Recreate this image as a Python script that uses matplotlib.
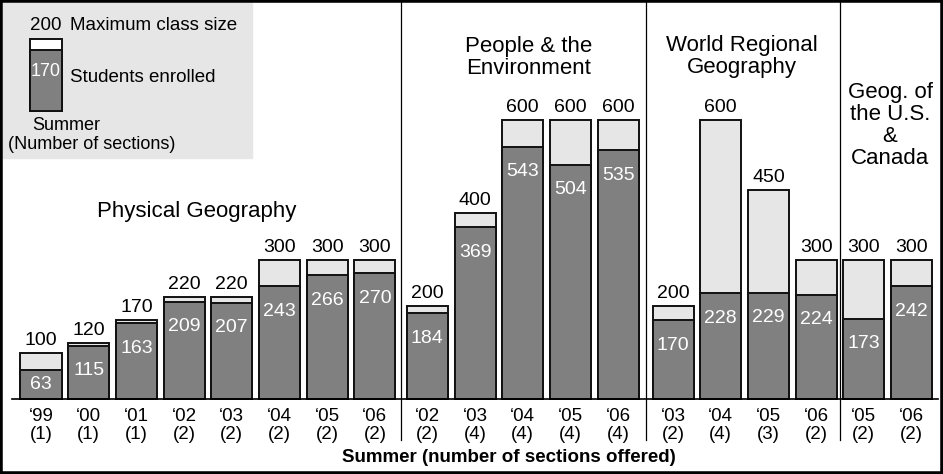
import numpy as np
import matplotlib
matplotlib.use('Agg')
import matplotlib.pyplot as plt
from matplotlib.patches import Rectangle

plt.rcParams['font.family'] = ['Liberation Sans', 'DejaVu Sans']

# course groups
groups = ['Physical Geography', 'People & the\nEnvironment',
          'World Regional\nGeography', 'Geog. of\nthe U.S.\n&\nCanada']
years = [["99", "00", "01", "02", "03", "04", "05", "06"],
         ["02", "03", "04", "05", "06"],
         ["03", "04", "05", "06"],
         ["05", "06"]]
sections = [[1, 1, 1, 2, 2, 2, 2, 2],
            [2, 4, 4, 4, 4],
            [2, 4, 3, 2],
            [2, 2]]
max_size = [[100, 120, 170, 220, 220, 300, 300, 300],
            [200, 400, 600, 600, 600],
            [200, 600, 450, 300],
            [300, 300]]
enrolled = [[63, 115, 163, 209, 207, 243, 266, 270],
            [184, 369, 543, 504, 535],
            [170, 228, 229, 224],
            [173, 242]]

W, H = 943, 474
PX_X = 47.7      # px per bar slot
PX_Y = 0.465     # px per student
X0, Y0 = 41, 399  # px of first bar centre / baseline

DARK = '#808080'
LIGHT = '#e6e6e6'

fig = plt.figure(figsize=(W / 100, H / 100), dpi=100)
ax = fig.add_axes([0, 0, 1, 1])
ax.set_xlim(-X0 / PX_X, (W - X0) / PX_X)
ax.set_ylim(-(H - Y0) / PX_Y, Y0 / PX_Y)
ax.axis('off')

# bar positions: one slot per bar, small extra gap between groups
gaps = [0.1, 0.15, 0.0]
pos = []
start = 0.0
for g in range(len(groups)):
    p = start + np.arange(len(years[g]))
    pos.append(p)
    if g < len(gaps):
        start = p[-1] + 1 + gaps[g]

bw = 0.86
ticks, ticklabels = [], []
for g in range(len(groups)):
    p = pos[g]
    mx = np.array(max_size[g])
    en = np.array(enrolled[g])
    ax.bar(p, mx, bw, color=LIGHT, edgecolor='#111111', linewidth=1.4, zorder=2)
    ax.bar(p, en, bw, color=DARK, edgecolor='#111111', linewidth=1.4, zorder=3)
    for x, m, e in zip(p, mx, en):
        ax.text(x, m + 8, str(m), ha='center', va='bottom', fontsize=14, zorder=4)
        ax.text(x, max(e - 54, e / 2), str(e), ha='center', va='center',
                fontsize=14, color='white', zorder=4)
    for x, y, s in zip(p, years[g], sections[g]):
        ticks.append(x)
        ticklabels.append('\u2018%s\n(%d)' % (y, s))

for x, lab in zip(ticks, ticklabels):
    ax.text(x, -19, lab, ha='center', va='top', fontsize=13.5, linespacing=1.1)

ax.text((509 - X0) / PX_X, -(458 - Y0) / PX_Y, 'Summer (number of sections offered)',
        ha='center', va='center', fontsize=13.5, fontweight='bold')

# group separators
for g in range(len(groups) - 1):
    xs = (pos[g][-1] + pos[g + 1][0]) / 2
    ax.plot([xs, xs], [-(440 - Y0) / PX_Y, Y0 / PX_Y], color='black', lw=0.9, zorder=1)

# baseline
ax.plot([(12 - X0) / PX_X, (938 - X0) / PX_X], [0, 0], color='black', lw=1.2, zorder=5)

# group titles
title_xy = [(3.27, 404), (10.23, 734), (14.7, 736), (17.8, 588)]
for name, (tx, ty) in zip(groups, title_xy):
    ax.text(tx, ty, name, ha='center', va='center', fontsize=16, linespacing=1.08)

# legend panel (figure pixel coords)
def fx(px):
    return px / W

def fy(py):
    return 1 - py / H

fig.patches.append(Rectangle((fx(3), fy(158)), fx(252) - fx(3), fy(3) - fy(158),
                             transform=fig.transFigure, color=LIGHT, zorder=0))
fig.patches.append(Rectangle((fx(30), fy(111)), fx(62) - fx(30), fy(39) - fy(111),
                             transform=fig.transFigure, facecolor='white',
                             edgecolor='#111111', lw=1.4, zorder=1))
fig.patches.append(Rectangle((fx(30), fy(111)), fx(62) - fx(30), fy(50) - fy(111),
                             transform=fig.transFigure, facecolor=DARK,
                             edgecolor='#111111', lw=1.4, zorder=2))
fig.text(fx(46), fy(25), '200', ha='center', va='center', fontsize=13.5)
fig.text(fx(70), fy(25), 'Maximum class size', ha='left', va='center', fontsize=13.5)
fig.text(fx(46), fy(72), '170', ha='center', va='center', fontsize=13, color='white')
fig.text(fx(70), fy(78), 'Students enrolled', ha='left', va='center', fontsize=13.5)
fig.text(fx(32), fy(126), 'Summer', ha='left', va='center', fontsize=13)
fig.text(fx(8), fy(145), '(Number of sections)', ha='left', va='center', fontsize=13)

# outer frame
fig.patches.append(Rectangle((0, 0), 1, 1, transform=fig.transFigure, fill=False,
                             edgecolor='black', lw=4, zorder=10))

fig.savefig('out.png', dpi=100)
